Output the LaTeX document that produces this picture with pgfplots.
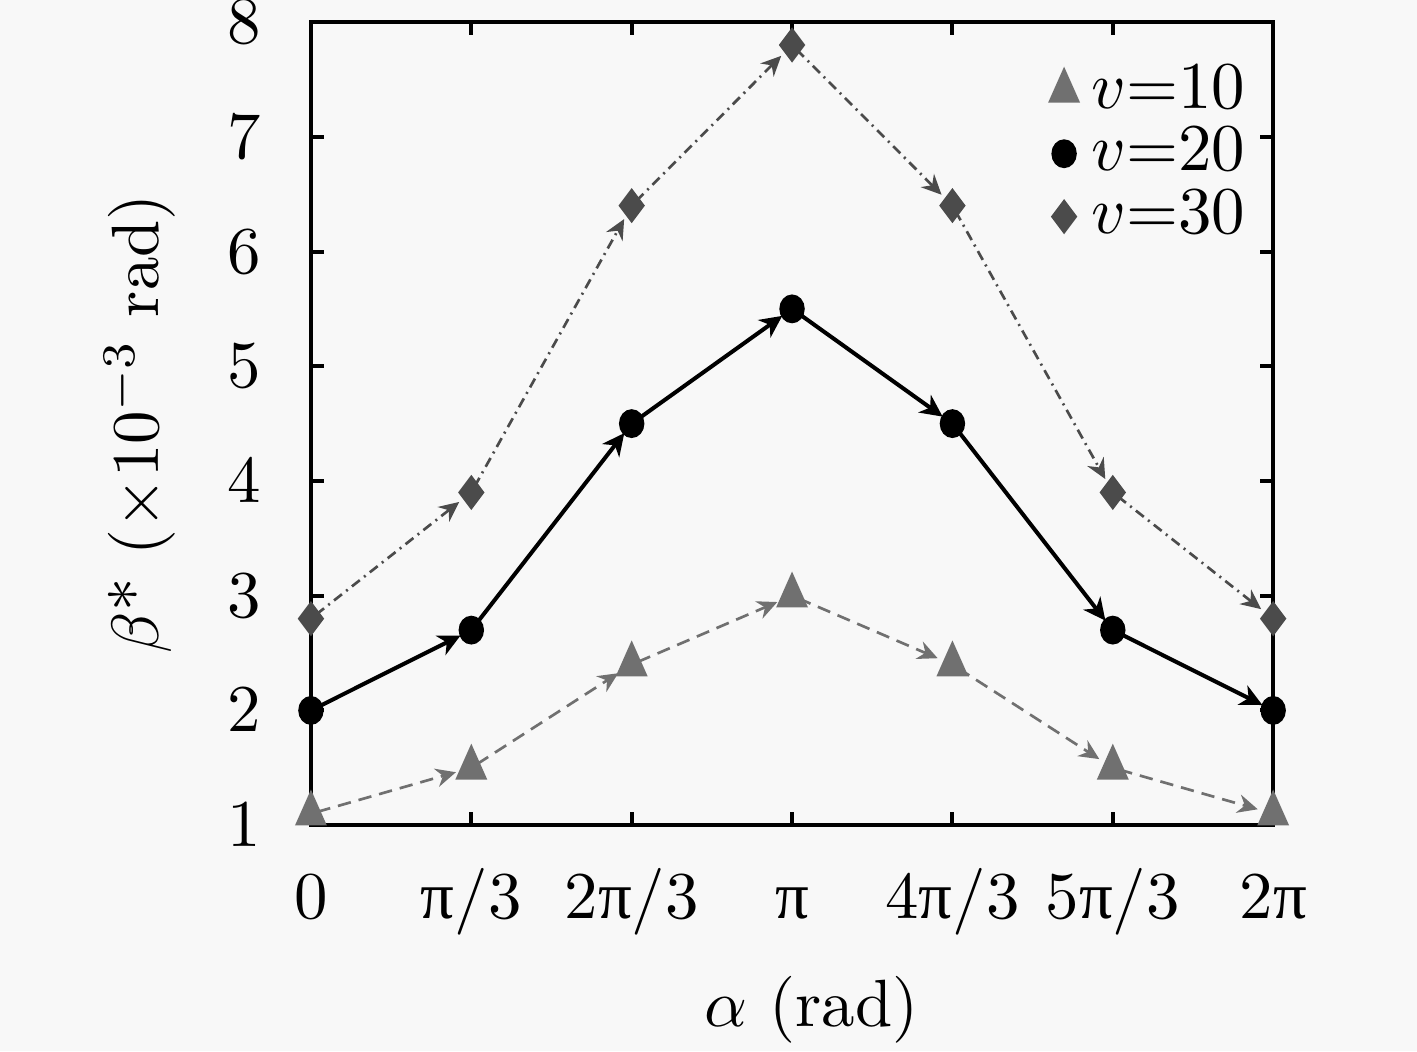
\documentclass[border=0pt]{standalone}
\usepackage{fontspec}
\usepackage{pgfplots}
\pgfplotsset{compat=1.18}
\usetikzlibrary{arrows.meta}
\newfontfamily\pif{Liberation Serif}
\newcommand{\p}{{\pif π}}
\definecolor{bg}{RGB}{248,248,248}
\definecolor{cten}{RGB}{112,112,112}
\definecolor{cthirty}{RGB}{75,75,75}
\begin{document}
\begin{tikzpicture}
\fill[bg] (-46.5pt,-33.8pt) rectangle (165.4pt,123.4pt);
\begin{axis}[
 scale only axis, width=143.9pt, height=120.1pt,
 xmin=0, xmax=6, ymin=1, ymax=8,
 xtick={0,1,2,3,4,5,6},
 xticklabels={0,\p/3,2\p/3,\p,4\p/3,5\p/3,2\p},
 ytick={1,2,3,4,5,6,7,8},
 axis line style={line width=0.6pt},
 every tick/.style={black, line width=0.6pt},
 major tick length=2pt,
 tick align=inside,
 xticklabel style={anchor=base, yshift=-13.9pt},
 yticklabel style={xshift=-4pt},
 xlabel={$\alpha$ (rad)},
 ylabel={$\beta$* ($\times10^{-3}$ rad)},
 x label style={at={(axis description cs:0.52,-0.23)}, anchor=center},
 y label style={at={(axis description cs:-0.178,0.5)}, anchor=center},
 clip=false,
 legend style={draw=none, fill=none, at={(axis description cs:1,1)}, anchor=north east, xshift=1pt, yshift=-2pt, row sep=-2.75pt},
 legend cell align=left,
]
% connecting arrows
\addplot[forget plot, no markers, cten, line width=0.4pt, dash pattern=on 2pt off 1.2pt,
  quiver={u=\thisrow{u}, v=\thisrow{v}}, -{Stealth[length=3pt,width=2.8pt,inset=1pt]},
  shorten >=2.4pt, shorten <=1pt] table {
x y u v
0 1.1 1 0.4
1 1.5 1 0.9
2 2.4 1 0.6
3 3.0 1 -0.6
4 2.4 1 -0.9
5 1.5 1 -0.4
};
\addplot[forget plot, no markers, black, line width=0.6pt,
  quiver={u=\thisrow{u}, v=\thisrow{v}}, -{Stealth[length=3.3pt,width=3.2pt,inset=1pt]},
  shorten >=1.8pt, shorten <=1.2pt] table {
x y u v
0 2.0 1 0.7
1 2.7 1 1.8
2 4.5 1 1.0
3 5.5 1 -1.0
4 4.5 1 -1.8
5 2.7 1 -0.7
};
\addplot[forget plot, no markers, cthirty, line width=0.4pt, dash pattern=on 1.5pt off 0.8pt on 0.3pt off 0.8pt,
  quiver={u=\thisrow{u}, v=\thisrow{v}}, -{Stealth[length=3pt,width=2.8pt,inset=1pt]},
  shorten >=2.3pt, shorten <=1pt] table {
x y u v
0 2.8 1 1.1
1 3.9 1 2.5
2 6.4 1 1.4
3 7.8 1 -1.4
4 6.4 1 -2.5
5 3.9 1 -1.1
};
% markers
\addplot[only marks, mark=triangle*, mark size=2.4pt, mark options={cten, fill=cten, yscale=1.3}] table {
x y
0 1.1
1 1.5
2 2.4
3 3.0
4 2.4
5 1.5
6 1.1
};
\addlegendentry{$v$=10}
\addplot[only marks, mark=*, mark size=1.7pt, mark options={black, fill=black, yscale=1.15}] table {
x y
0 2.0
1 2.7
2 4.5
3 5.5
4 4.5
5 2.7
6 2.0
};
\addlegendentry{$v$=20}
\addplot[only marks, mark=diamond*, mark size=2.3pt, mark options={cthirty, fill=cthirty}] table {
x y
0 2.8
1 3.9
2 6.4
3 7.8
4 6.4
5 3.9
6 2.8
};
\addlegendentry{$v$=30}
\end{axis}
\pgfresetboundingbox
\path[use as bounding box] (-46.5pt,-33.8pt) rectangle (165.4pt,123.4pt);
\end{tikzpicture}
\end{document}
